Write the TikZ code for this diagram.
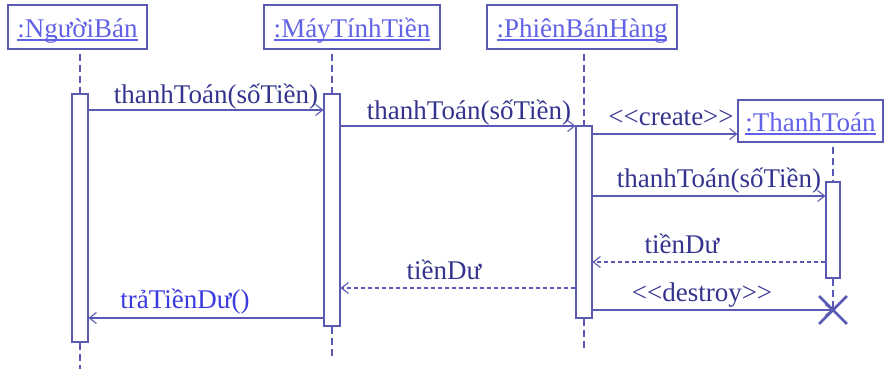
\documentclass[tikz,border=0pt]{standalone}
\usepackage{fontspec}
\setmainfont[Ligatures=TeXOff]{Liberation Serif}
\usetikzlibrary{arrows.meta,positioning,shapes.misc}
\definecolor{umlline}{HTML}{5A5AB4}
\definecolor{umltext}{HTML}{34348E}
\definecolor{umlhead}{HTML}{6262E6}
\definecolor{umlcall}{HTML}{3A3AE0}
\newcommand{\ulname}[1]{\setbox0\hbox{#1}\rlap{\rule[-3.5pt]{\wd0}{1.3pt}}\box0}

\begin{document}
\begin{tikzpicture}[x=1pt,y=-1pt,
  objbox/.style={draw=umlline,line width=1.1pt,inner sep=0pt,text height=22pt,text depth=2pt,
    text=umlhead,font=\fontsize{27}{31}\selectfont},
  actbar/.style={draw=umlline,line width=1.1pt,fill=white,minimum width=16pt,inner sep=0pt},
  lifeline/.style={umlline,line width=1.1pt,dash pattern=on 7pt off 4pt},
  msg/.style={umlline,line width=1.1pt,-{Straight Barb[length=7pt,width=11pt]}},
  ret/.style={msg,dash pattern=on 4pt off 3pt},
  lbl/.style={anchor=base,text=umltext,inner sep=0pt,font=\fontsize{27}{31}\selectfont}]
\useasboundingbox (0,0) rectangle (884,368);

% objects
\node[objbox,minimum width=139pt,minimum height=44pt] (hNB) at (77.5,27) {\ulname{:NgườiBán}};
\node[objbox,minimum width=176pt,minimum height=44pt] (hMT) at (352,27) {\ulname{:MáyTínhTiền}};
\node[objbox,minimum width=190pt,minimum height=44pt] (hPB) at (582,27) {\ulname{:PhiênBánHàng}};
\node[objbox,minimum width=145pt,minimum height=42pt] (hTT) at (810.5,121) {\ulname{:ThanhToán}};

% activation bars
\node[actbar,minimum height=248pt] (barNB) at (80,218) {};
\node[actbar,minimum height=232pt] (barMT) at (332,210) {};
\node[actbar,minimum height=192pt] (barPB) at (584,222) {};
\node[actbar,minimum width=14pt,minimum height=96pt] (barTT) at (833,230) {};
\node[draw=umlline,cross out,line width=2.8pt,minimum size=25pt,inner sep=0pt] (xTT) at (833,310) {};

% lifelines
\foreach \b/\h/\e in {barNB/hNB/26,barMT/hMT/30,barPB/hPB/29}{
  \draw[lifeline,shorten <=4pt] (\b.north |- \h.south) -- (\b.north);
  \draw[lifeline] (\b.south) -- ++(0,\e);}
\draw[lifeline,shorten <=4pt] (barTT.north |- hTT.south) -- (barTT.north);
\draw[lifeline] (barTT.south) -- (xTT.center);

% messages
\draw[msg] (barNB.east |- 0,110) -- (barMT.west |- 0,110);
\node[lbl] (l1) at (216,103) {thanhToán(sốTiền)};
\draw[msg] (barMT.east |- 0,126) -- (barPB.west |- 0,126);
\node[lbl] (l2) at (469,119) {thanhToán(sốTiền)};
\draw[msg] (barPB.east |- 0,134) -- (hTT.west |- 0,134);
\node[lbl] (l3) at (671,125) {<<create>>};
\draw[msg] (barPB.east |- 0,196) -- (barTT.west |- 0,196);
\node[lbl] (l4) at (719,187) {thanhToán(sốTiền)};
\draw[ret] (barTT.west |- 0,262) -- (barPB.east |- 0,262);
\node[lbl] (l5) at (682,253) {tiềnDư};
\draw[ret] (barPB.west |- 0,288) -- (barMT.east |- 0,288);
\node[lbl] (l6) at (444,279) {tiềnDư};
\draw[msg] (barPB.east |- 0,310) -- (xTT.center);
\node[lbl] (l7) at (702,301) {<<destroy>>};
\draw[msg] (barMT.west |- 0,318) -- (barNB.east |- 0,318);
\node[lbl,text=umlcall] (l8) at (185,308) {trảTiềnDư()};
\end{tikzpicture}
\end{document}
